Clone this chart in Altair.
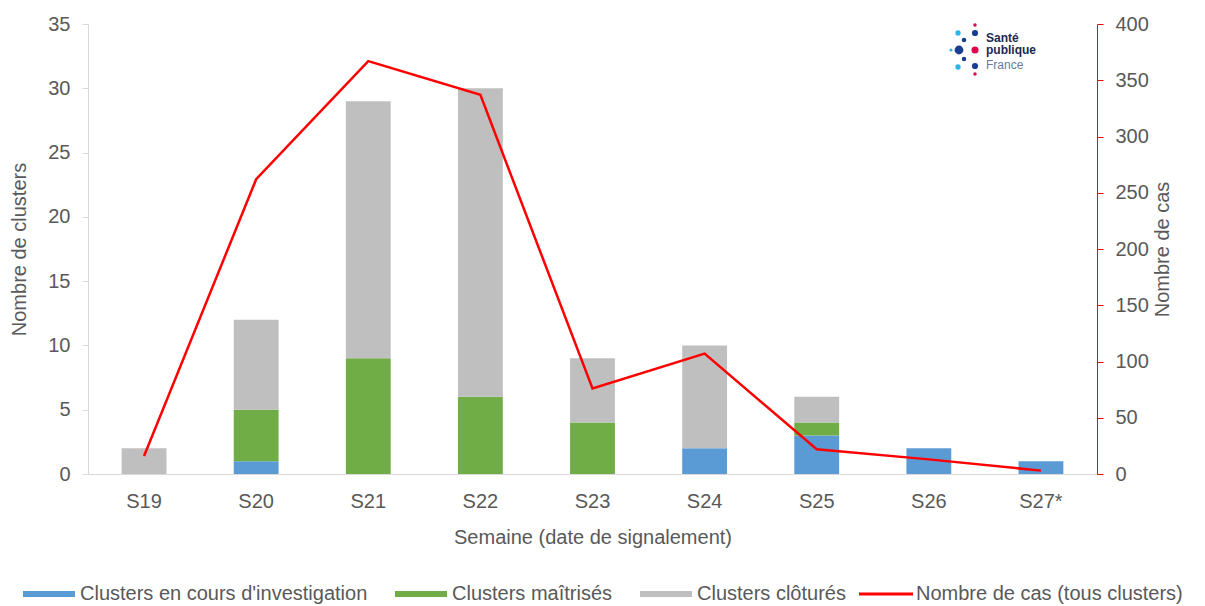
import altair as alt
import pandas as pd

# ---- data ----
semaines = ["S19", "S20", "S21", "S22", "S23", "S24", "S25", "S26", "S27*"]
en_cours = [0, 1, 0, 0, 0, 2, 3, 2, 1]
maitrises = [0, 4, 9, 6, 4, 0, 1, 0, 0]
clotures = [2, 7, 20, 24, 5, 8, 2, 0, 0]
nb_cas = [16, 262, 367, 337, 76, 107, 22, 13, 3]

series = ["Clusters en cours d'investigation", "Clusters maîtrisés", "Clusters clôturés"]
line_name = "Nombre de cas (tous clusters)"

# ---- styles ----
colors = ["#5b9bd5", "#70ad47", "#bfbfbf"]
red = "#ff0000"
txt = "#595959"
font = "Liberation Sans"

rows = []
for i, s in enumerate(semaines):
    for k, vals in enumerate([en_cours, maitrises, clotures]):
        rows.append({"semaine": s, "serie": series[k], "ordre": k, "n": vals[i]})
bars_df = pd.DataFrame(rows)
line_df = pd.DataFrame({"semaine": semaines, "cas": nb_cas, "serie": [line_name] * len(semaines)})

x_enc = alt.X(
    "semaine:N",
    sort=semaines,
    scale=alt.Scale(paddingInner=0.6, paddingOuter=0.3),
    axis=alt.Axis(
        title="Semaine (date de signalement)",
        labelAngle=0,
        ticks=False,
        domainColor="#d9d9d9",
        labelPadding=17,
        titlePadding=16,
    ),
)

bars = alt.Chart(bars_df).mark_bar().encode(
    x=x_enc,
    y=alt.Y(
        "n:Q",
        stack="zero",
        scale=alt.Scale(domain=[0, 35], nice=False),
        axis=alt.Axis(
            values=list(range(0, 36, 5)),
            title="Nombre de clusters",
            grid=False,
            domainColor="#d9d9d9",
            tickColor="#d9d9d9",
            tickSize=6,
            labelPadding=12,
            titlePadding=18,
        ),
    ),
    color=alt.Color(
        "serie:N",
        scale=alt.Scale(domain=series, range=colors),
        legend=alt.Legend(
            title=None,
            orient="none",
            legendX=-49,
            legendY=560,
            direction="horizontal",
            symbolType="M-5.2,-0.6H5.2V0.6H-5.2Z",
            symbolSize=100,
            symbolStrokeWidth=0,
            labelOffset=21,
            columnPadding=27,
            labelLimit=500,
            labelFontSize=20,
            labelFont=font,
            labelColor=txt,
        ),
    ),
    order=alt.Order("ordre:Q"),
)

line = alt.Chart(line_df).mark_line(strokeWidth=2.5).encode(
    x=x_enc,
    y=alt.Y(
        "cas:Q",
        scale=alt.Scale(domain=[0, 400], nice=False),
        axis=alt.Axis(
            orient="right",
            values=list(range(0, 401, 50)),
            title="Nombre de cas",
            titleAngle=270,
            grid=False,
            domainColor=red,
            tickColor=red,
            tickSize=6,
            labelPadding=12,
            titlePadding=24,
        ),
    ),
    stroke=alt.Stroke(
        "serie:N",
        scale=alt.Scale(domain=[line_name], range=[red]),
        legend=alt.Legend(
            title=None,
            orient="none",
            legendX=788,
            legendY=560,
            symbolType="M-5.4,0H5.4",
            symbolSize=100,
            symbolStrokeWidth=3,
            labelOffset=20,
            labelLimit=500,
            labelFontSize=20,
            labelFont=font,
            labelColor=txt,
        ),
    ),
)

# ---- logo (decoration) ----
one = pd.DataFrame({"a": [0]})
logo_dots = [
    (887, 1, 12, "#e5004d"),
    (887, 9, 38, "#1a3d8f"),
    (870, 9, 28, "#29b6e8"),
    (876, 16, 20, "#1a3d8f"),
    (863, 26, 10, "#29b6e8"),
    (871, 26, 78, "#1a3d8f"),
    (887, 26, 50, "#e5004d"),
    (876, 35, 20, "#1a3d8f"),
    (870, 43, 28, "#29b6e8"),
    (887, 42, 38, "#1a3d8f"),
    (887, 50, 12, "#e5004d"),
]
logo_layers = []
for (px, py, sz, col) in logo_dots:
    logo_layers.append(
        alt.Chart(one).mark_circle(size=sz, color=col, opacity=1).encode(
            x=alt.value(px), y=alt.value(py)
        )
    )
for (t, py, w, col) in [("Santé", 18, "bold", "#1b2a4e"), ("publique", 30, "bold", "#1b2a4e"), ("France", 45, "normal", "#6b7a99")]:
    logo_layers.append(
        alt.Chart(one).mark_text(
            text=t, align="left", baseline="alphabetic", font=font, fontSize=12,
            fontWeight=w, color=col
        ).encode(x=alt.value(898), y=alt.value(py))
    )

chart = (
    alt.layer(bars, line, *logo_layers)
    .resolve_scale(y="independent", color="independent", stroke="independent")
    .properties(
        width=1009,
        height=450,
        padding={"left": 80, "top": 16, "right": 90, "bottom": 140},
        autosize=alt.AutoSizeParams(type="none"),
    )
    .configure_view(stroke=None)
    .configure_axis(
        labelFont=font,
        labelFontSize=20,
        labelColor=txt,
        titleFont=font,
        titleFontSize=20,
        titleFontWeight="normal",
        titleColor=txt,
    )
)

chart.save("out.html", embed_options={"renderer": "svg", "actions": False})
